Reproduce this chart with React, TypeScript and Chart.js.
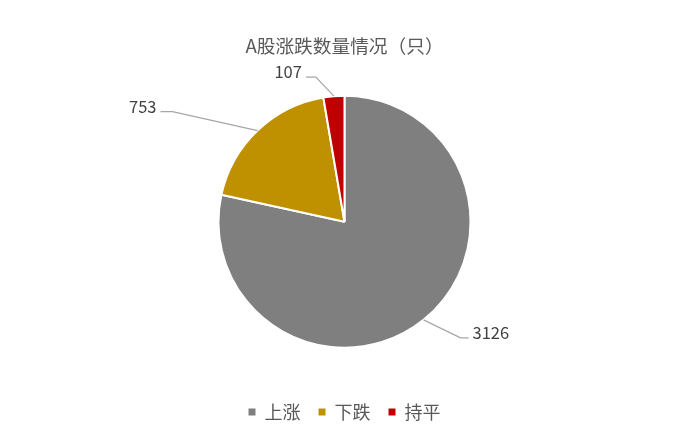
import { useEffect, useRef } from 'react';
import Chart from 'chart.js/auto';
import type { Plugin } from 'chart.js';

const categories = ['上涨', '下跌', '持平'];
const counts = [3126, 753, 107];
const sliceColors = ['#7f7f7f', '#bf9000', '#c00000'];

// leader line: elbow offset from the slice edge, then a short horizontal tail
const leaderStyle = [
  { dx: 37, dy: 18, tail: 8 },
  { dx: -85, dy: -19, tail: -12 },
  { dx: -18, dy: -19, tail: -10 },
];

const FONT = '"Noto Sans CJK SC", "Noto Sans", sans-serif';

const leaderLabels: Plugin<'pie'> = {
  id: 'leaderLabels',
  afterDatasetsDraw(chart) {
    const { ctx } = chart;
    const meta = chart.getDatasetMeta(0);
    ctx.save();
    meta.data.forEach((el: any, i) => {
      const { x, y, startAngle, endAngle, outerRadius } = el.getProps(
        ['x', 'y', 'startAngle', 'endAngle', 'outerRadius'],
        true
      );
      const mid = (startAngle + endAngle) / 2;
      const sx = x + Math.cos(mid) * outerRadius;
      const sy = y + Math.sin(mid) * outerRadius;
      const st = leaderStyle[i];
      const ex = sx + st.dx;
      const ey = sy + st.dy;
      const tx = ex + st.tail;

      ctx.beginPath();
      ctx.strokeStyle = '#a6a6a6';
      ctx.lineWidth = 1.2;
      ctx.moveTo(sx, sy);
      ctx.lineTo(ex, ey);
      ctx.lineTo(tx, ey);
      ctx.stroke();

      const right = st.tail > 0;
      ctx.font = `16.5px ${FONT}`;
      ctx.fillStyle = '#404040';
      ctx.textAlign = right ? 'left' : 'right';
      ctx.textBaseline = 'alphabetic';
      ctx.fillText(String(counts[i]), tx + (right ? 4 : -4), ey + 1);
    });
    ctx.restore();
  },
};

export default function App() {
  const canvasRef = useRef<HTMLCanvasElement>(null);
  const chartRef = useRef<Chart<'pie'> | null>(null);

  useEffect(() => {
    if (!canvasRef.current) return;
    const defaultLabels = (Chart as any).overrides.pie.plugins.legend.labels.generateLabels;

    chartRef.current = new Chart(canvasRef.current, {
      type: 'pie',
      data: {
        labels: categories,
        datasets: [
          {
            data: counts,
            backgroundColor: sliceColors,
            borderColor: '#ffffff',
            borderWidth: 2,
          },
        ],
      },
      options: {
        animation: false,
        responsive: false,
        maintainAspectRatio: false,
        radius: 126,
        layout: { padding: { top: 0, bottom: 13, left: 0, right: 0 } },
        plugins: {
          tooltip: { enabled: false },
          title: {
            display: true,
            text: 'A股涨跌数量情况（只）',
            color: '#595959',
            font: { family: FONT, size: 18.7, weight: 'normal' },
            padding: { top: 35, bottom: 1 },
          },
          legend: {
            position: 'bottom',
            labels: {
              boxWidth: 7,
              boxHeight: 7,
              padding: 18,
              color: '#595959',
              font: { family: FONT, size: 18 },
              generateLabels: (c: Chart) =>
                defaultLabels(c).map((l: any) => ({ ...l, lineWidth: 0 })),
            },
          },
        },
      },
      plugins: [leaderLabels],
    });

    return () => {
      chartRef.current?.destroy();
      chartRef.current = null;
    };
  }, []);

  return (
    <div style={{ position: 'absolute', left: 0, top: 0, width: 689, height: 444, background: '#fff' }}>
      <canvas ref={canvasRef} width={689} height={444} style={{ width: 689, height: 444 }} />
    </div>
  );
}
